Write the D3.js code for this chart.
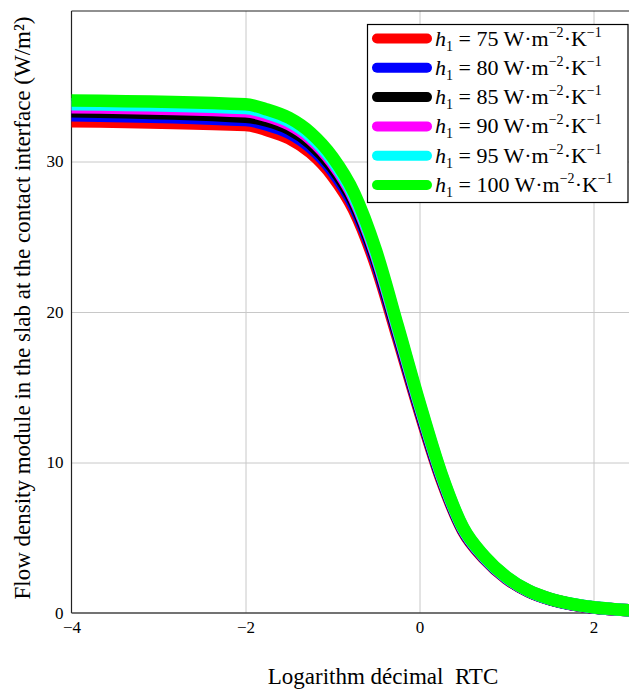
<!DOCTYPE html>
<html>
<head>
<meta charset="utf-8">
<script src="https://cdnjs.cloudflare.com/ajax/libs/d3/7.8.5/d3.min.js"></script>
<style>
  body { margin: 0; background: #fff; }
  svg { display: block; font-family: "Liberation Serif", "Times New Roman", serif; }
</style>
</head>
<body>
<div id="viz"></div>
<script>

// log10 of the contact resistance (x) and flux density
var logRTC   = [-4, -2, -1.75, -1.5, -1.25, -1, -0.75, -0.5, -0.25, 0, 0.25, 0.5, 0.75, 1, 1.25, 1.5, 1.75, 2, 2.25, 2.5];
var flux75   = [32.68, 32.42, 32.08, 31.55, 30.59, 29.06, 26.76, 23.11, 18.32, 13.43, 8.92, 5.47, 3.60, 2.30, 1.44, 0.91, 0.58, 0.36, 0.24, 0.15];
var flux80   = [33.08, 32.75, 32.45, 31.91, 30.94, 29.39, 27.06, 23.38, 18.53, 13.58, 9.02, 5.53, 3.64, 2.33, 1.46, 0.92, 0.58, 0.37, 0.24, 0.16];
var flux85   = [33.34, 32.97, 32.71, 32.18, 31.20, 29.63, 27.29, 23.57, 18.68, 13.69, 9.10, 5.57, 3.67, 2.35, 1.47, 0.93, 0.59, 0.37, 0.24, 0.16];
var flux90   = [33.61, 33.34, 33.02, 32.47, 31.49, 29.91, 27.54, 23.79, 18.85, 13.82, 9.18, 5.63, 3.70, 2.37, 1.48, 0.94, 0.59, 0.38, 0.25, 0.16];
var flux95   = [33.81, 33.56, 33.22, 32.67, 31.68, 30.09, 27.70, 23.93, 18.97, 13.90, 9.23, 5.66, 3.72, 2.38, 1.49, 0.94, 0.60, 0.38, 0.25, 0.16];
var flux100  = [34.05, 33.80, 33.45, 32.90, 31.90, 30.30, 27.90, 24.10, 19.10, 14.00, 9.30, 5.70, 3.75, 2.40, 1.50, 0.95, 0.60, 0.38, 0.25, 0.16];

var hValues = [75, 80, 85, 90, 95, 100];
var xTicks = [-4, -2, 0, 2];
var yTicks = [0, 10, 20, 30];

var colors = ["#ff0000", "#0000ff", "#000000", "#ff00ff", "#00ffff", "#00ff00"];
var allFlux = [flux75, flux80, flux85, flux90, flux95, flux100];

var serif = "Liberation Serif";
var w = 629;
var h = 689;

var svg = d3.select("#viz")
    .append("svg")
    .attr("width", w)
    .attr("height", h);

var x = d3.scaleLinear().domain([-4, 2.5]).range([71.5, 637]);
var y = d3.scaleLinear().domain([0, 40]).range([613, 11]);

// grid
svg.append("g")
    .attr("transform", "translate(0,613)")
    .call(d3.axisBottom(x).tickValues([-2, 0, 2]).tickSize(-602).tickFormat(""))
    .call(function(g){ g.select(".domain").remove(); })
    .selectAll("line")
    .attr("stroke", "#c8c8c8");

svg.append("g")
    .attr("transform", "translate(71.5,0)")
    .call(d3.axisLeft(y).tickValues([10, 20, 30]).tickSize(-570).tickFormat(""))
    .call(function(g){ g.select(".domain").remove(); })
    .selectAll("line")
    .attr("stroke", "#c8c8c8");

// tick labels
svg.append("g")
    .attr("transform", "translate(0,613)")
    .call(d3.axisBottom(x).tickValues(xTicks).tickSize(0).tickPadding(8).tickFormat(d3.format("d")))
    .call(function(g){ g.select(".domain").remove(); })
    .selectAll("text")
    .attr("font-family", serif)
    .attr("font-size", 17)
    .attr("fill", "#000");

svg.append("g")
    .attr("transform", "translate(71.5,0)")
    .call(d3.axisLeft(y).tickValues(yTicks).tickSize(0).tickPadding(8).tickFormat(d3.format("d")))
    .call(function(g){ g.select(".domain").remove(); })
    .selectAll("text")
    .attr("font-family", serif)
    .attr("font-size", 17)
    .attr("fill", "#000");

// frame
svg.append("line")
    .attr("x1", 71.5).attr("x2", w)
    .attr("y1", 11).attr("y2", 11)
    .attr("stroke", "#222").attr("stroke-width", 1.2);
svg.append("line")
    .attr("x1", 71.5).attr("x2", 71.5)
    .attr("y1", 11).attr("y2", 613)
    .attr("stroke", "#222").attr("stroke-width", 1.2);
svg.append("line")
    .attr("x1", 71.5).attr("x2", w)
    .attr("y1", 613).attr("y2", 613)
    .attr("stroke", "#444").attr("stroke-width", 1.5);

// curves
var line = d3.line()
    .curve(d3.curveMonotoneX)
    .x(function(d){ return x(d[0]); })
    .y(function(d){ return y(d[1]); });

allFlux.forEach(function(vals, i){
  svg.append("path")
      .datum(logRTC.map(function(v, j){ return [v, vals[j]]; }))
      .attr("d", line)
      .attr("fill", "none")
      .attr("stroke", colors[i])
      .attr("stroke-width", 12.5)
      .attr("stroke-linejoin", "round");
});

// axis titles
svg.append("text")
    .attr("x", 383)
    .attr("y", 684)
    .attr("text-anchor", "middle")
    .attr("font-family", serif)
    .attr("font-size", 23)
    .text("Logarithm décimal\u00a0 RTC");

svg.append("text")
    .attr("transform", "translate(30,308) rotate(-90)")
    .attr("text-anchor", "middle")
    .attr("font-family", serif)
    .attr("font-size", 23)
    .text("Flow density module in the slab at the contact interface (W/m²)");

// legend
var legend = svg.append("g")
    .attr("font-family", serif);

legend.append("rect")
    .attr("x", 367.5).attr("y", 24.5)
    .attr("width", 260.5).attr("height", 178)
    .attr("fill", "#fff")
    .attr("stroke", "#000")
    .attr("stroke-width", 1.2);

hValues.forEach(function(hv, i){
  var cy = 38.5 + i * 29.3;
  legend.append("line")
      .attr("x1", 377).attr("x2", 427)
      .attr("y1", cy).attr("y2", cy)
      .attr("stroke", colors[i])
      .attr("stroke-width", 10)
      .attr("stroke-linecap", "round");

  var t = legend.append("text")
      .attr("x", 435)
      .attr("y", cy + 7)
      .attr("font-size", 22);
  t.append("tspan").attr("font-style", "italic").text("h");
  t.append("tspan").attr("font-size", 14).attr("dy", 5).text("1");
  t.append("tspan").attr("dy", -5).text(" = " + hv + " W·m");
  t.append("tspan").attr("font-size", 14).attr("dy", -9).text("−2");
  t.append("tspan").attr("dy", 9).text("·K");
  t.append("tspan").attr("font-size", 14).attr("dy", -9).text("−1");
});

</script>
</body>
</html>
